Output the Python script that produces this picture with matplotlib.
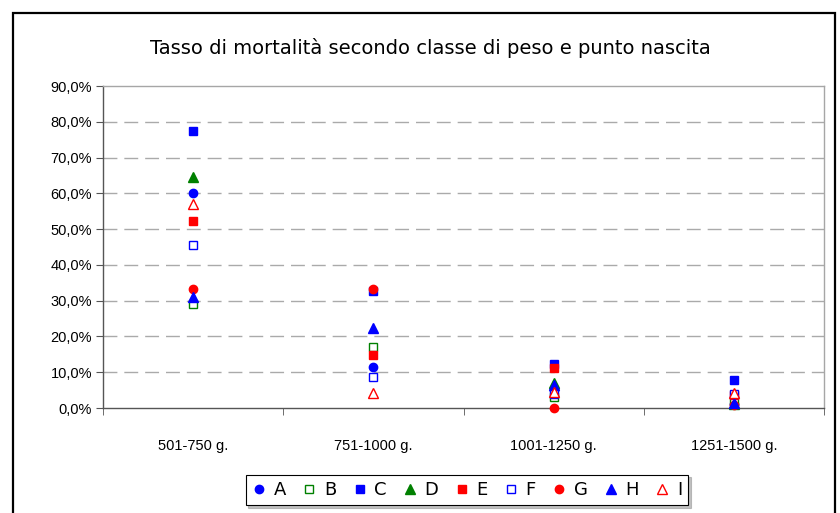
import matplotlib
matplotlib.use("Agg")
import matplotlib.pyplot as plt
from matplotlib.ticker import FuncFormatter, FixedLocator
from matplotlib.patches import Rectangle
import numpy as np

categories = ["501-750 g.", "751-1000 g.", "1001-1250 g.", "1251-1500 g."]
series_names = ["A", "B", "C", "D", "E", "F", "G", "H", "I"]
A = [60.1, 11.5, 5.0, 1.0]
B = [29.0, 17.1, 3.2, 2.0]
C = [77.4, 32.8, 12.3, 7.8]
D = [64.6, 0.0, 6.9, 1.2]
E = [52.2, 14.8, 11.1, 3.6]
F = [45.5, 8.6, 3.8, 4.0]
G = [33.4, 33.4, 0.0, 0.8]
H = [31.1, 22.3, 6.4, 1.3]
I = [57.0, 4.1, 4.6, 4.3]
values = [A, B, C, D, E, F, G, H, I]
# D in 751-1000 has no visible point
missing = {("D", 1)}

styles = {
    "A": dict(marker="o", color="#0000FF", filled=True, ms=6),
    "B": dict(marker="s", color="#008000", filled=False, ms=6),
    "C": dict(marker="s", color="#0000FF", filled=True, ms=6.2),
    "D": dict(marker="^", color="#008000", filled=True, ms=7),
    "E": dict(marker="s", color="#FF0000", filled=True, ms=6.2),
    "F": dict(marker="s", color="#0000FF", filled=False, ms=6),
    "G": dict(marker="o", color="#FF0000", filled=True, ms=6),
    "H": dict(marker="^", color="#0000FF", filled=True, ms=7),
    "I": dict(marker="^", color="#FF0000", filled=False, ms=7),
}

W, Hh = 840, 513
fig = plt.figure(figsize=(W / 100, Hh / 100), dpi=100)
fig.patch.set_facecolor("white")

# outer chart border
fig.add_artist(Rectangle((13 / W, -0.05), (835 - 13) / W, (Hh - 13) / Hh + 0.05,
                         transform=fig.transFigure, fill=False, edgecolor="black", lw=1.6))

left, right, top, bottom = 103, 824, 86, 408
ax = fig.add_axes([left / W, (Hh - bottom) / Hh, (right - left) / W, (bottom - top) / Hh])

x = np.arange(len(categories))
for name, vals in zip(series_names, values):
    st = styles[name]
    xs, ys = [], []
    for i, v in enumerate(vals):
        if (name, i) in missing:
            continue
        xs.append(x[i]); ys.append(v)
    ax.plot(xs, ys, linestyle="none", marker=st["marker"], markersize=st["ms"],
            markerfacecolor=st["color"] if st["filled"] else "white",
            markeredgecolor=st["color"], markeredgewidth=1.0, label=name,
            clip_on=False, zorder=3)

ax.set_xlim(-0.5, len(categories) - 0.5)
ax.set_ylim(0, 90)
ax.set_yticks(np.arange(0, 91, 10))
ax.yaxis.set_major_formatter(FuncFormatter(lambda v, p: f"{v:.1f}%".replace(".", ",")))
ax.set_xticks(x)
ax.set_xticklabels(categories)
ax.xaxis.set_minor_locator(FixedLocator(np.arange(-0.5, len(categories), 1.0)))
ax.tick_params(axis="x", which="major", length=0, pad=22, labelsize=10.5)
ax.tick_params(axis="x", which="minor", length=5, direction="out", color="#555555")
ax.tick_params(axis="y", length=5, direction="out", color="#555555", labelsize=10.5, pad=3)
for lab in ax.get_xticklabels() + ax.get_yticklabels():
    lab.set_family("Liberation Sans")

for yv in range(10, 90, 10):
    ax.axhline(yv, color="#AAAAAA", lw=1.0, dashes=(10, 5), zorder=1)

ax.spines["left"].set_color("#555555")
ax.spines["bottom"].set_color("#555555")
ax.spines["top"].set_color("#A6A6A6")
ax.spines["right"].set_color("#A6A6A6")
for s in ax.spines.values():
    s.set_linewidth(1.0)

fig.text(430 / W, (Hh - 48) / Hh, "Tasso di mortalità secondo classe di peso e punto nascita",
         ha="center", va="center", fontsize=14, family="DejaVu Sans")

leg = fig.legend(loc="center", bbox_to_anchor=(467 / W, (Hh - 490) / Hh), ncol=9,
                 frameon=True, fancybox=False, shadow={"color": "#999999", "alpha": 0.6},
                 handlelength=0.8, handletextpad=0.4, columnspacing=0.9,
                 borderpad=0.35, prop={"family": "DejaVu Sans", "size": 13})
leg.get_frame().set_edgecolor("black")
leg.get_frame().set_linewidth(0.8)

fig.savefig("out.png", dpi=100)
